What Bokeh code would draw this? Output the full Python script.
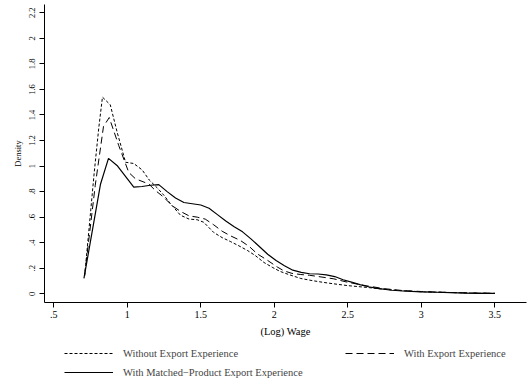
from bokeh.plotting import figure
from bokeh.models import Range1d, FixedTicker, Legend, LegendItem
from bokeh.layouts import column
from bokeh.embed import file_html
from bokeh.resources import INLINE

# Without Export Experience (short dash)
x_without = [0.71, 0.775, 0.806, 0.831, 0.884, 0.931, 0.988, 1.044, 1.101, 1.15, 1.203, 1.25, 1.294,
             1.362, 1.42, 1.475, 1.52, 1.588, 1.645, 1.70, 1.76, 1.816, 1.87, 1.93, 1.99, 2.04, 2.10,
             2.18, 2.25, 2.33, 2.405, 2.5, 2.63, 2.75, 2.86, 3.0, 3.2, 3.35, 3.5]
y_without = [0.14, 0.95, 1.30, 1.54, 1.48, 1.265, 1.03, 1.02, 0.97, 0.89, 0.83, 0.77, 0.705,
             0.615, 0.585, 0.58, 0.56, 0.48, 0.44, 0.41, 0.375, 0.34, 0.30, 0.245, 0.205, 0.175, 0.15,
             0.12, 0.105, 0.09, 0.078, 0.064, 0.05, 0.035, 0.025, 0.016, 0.01, 0.006, 0.003]

# With Export Experience (long dash)
x_with = [0.71, 0.782, 0.838, 0.877, 0.942, 1.01, 1.056, 1.146, 1.19, 1.248, 1.305, 1.362, 1.42,
          1.476, 1.53, 1.588, 1.645, 1.70, 1.77, 1.83, 1.884, 1.95, 2.02, 2.065, 2.12, 2.18, 2.24,
          2.30, 2.405, 2.5, 2.63, 2.75, 2.86, 3.0, 3.2, 3.35, 3.5]
y_with = [0.15, 0.85, 1.31, 1.38, 1.16, 0.95, 0.90, 0.86, 0.81, 0.756, 0.69, 0.645, 0.61,
          0.60, 0.585, 0.54, 0.49, 0.455, 0.417, 0.37, 0.313, 0.265, 0.21, 0.18, 0.16, 0.151, 0.145,
          0.135, 0.117, 0.09, 0.062, 0.04, 0.027, 0.018, 0.01, 0.007, 0.004]

# With Matched-Product Export Experience (solid)
x_matched = [0.705, 0.818, 0.872, 0.93, 1.044, 1.10, 1.157, 1.214, 1.271, 1.328, 1.385, 1.442, 1.50,
             1.556, 1.613, 1.67, 1.727, 1.784, 1.841, 1.898, 1.955, 2.012, 2.069, 2.126, 2.183, 2.24,
             2.297, 2.354, 2.411, 2.468, 2.525, 2.582, 2.64, 2.70, 2.80, 2.90, 3.0, 3.1, 3.2, 3.3, 3.4, 3.5]
y_matched = [0.12, 0.86, 1.06, 1.005, 0.835, 0.84, 0.85, 0.855, 0.80, 0.75, 0.715, 0.705, 0.695,
             0.67, 0.62, 0.57, 0.525, 0.485, 0.43, 0.37, 0.31, 0.26, 0.22, 0.185, 0.168, 0.157,
             0.155, 0.148, 0.135, 0.11, 0.092, 0.072, 0.055, 0.042, 0.028, 0.02, 0.015, 0.012, 0.009,
             0.006, 0.004, 0.003]

series_labels = ["Without Export Experience", "With Export Experience",
                 "With Matched\u2212Product Export Experience"]

x_ticks = [0.5, 1.0, 1.5, 2.0, 2.5, 3.0, 3.5]
x_tick_labels = [".5", "1", "1.5", "2", "2.5", "3", "3.5"]
y_ticks = [0, 0.2, 0.4, 0.6, 0.8, 1.0, 1.2, 1.4, 1.6, 1.8, 2.0, 2.2]
y_tick_labels = ["0", ".2", ".4", ".6", ".8", "1", "1.2", "1.4", "1.6", "1.8", "2", "2.2"]

FONT = "Liberation Serif"
styles = [dict(line_dash="3 2", line_width=1), dict(line_dash="7 4", line_width=1),
          dict(line_dash="solid", line_width=1.2)]
series_x = [x_without, x_with, x_matched]
series_y = [y_without, y_with, y_matched]

p = figure(width=528, height=342, frame_width=482, frame_height=298,
           output_backend="svg", toolbar_location=None,
           x_range=Range1d(0.4367, 3.7156), y_range=Range1d(-0.0681, 2.265),
           min_border_left=44, min_border_right=2, min_border_top=4, min_border_bottom=40)
p.background_fill_color = "white"
p.border_fill_color = "white"
p.outline_line_color = None
p.grid.visible = False

for xs, ys, st in zip(series_x, series_y, styles):
    p.line(xs, ys, line_color="black", **st)

for ax in (p.xaxis[0], p.yaxis[0]):
    ax.axis_line_color = "black"
    ax.major_tick_line_color = "black"
    ax.minor_tick_line_color = None
    ax.major_tick_out = 5
    ax.major_tick_in = 0
    ax.major_label_text_font = FONT
    ax.axis_label_text_font = FONT
    ax.axis_label_text_font_style = "normal"
    ax.major_label_text_color = "black"
    ax.axis_label_text_color = "black"

p.xaxis.ticker = FixedTicker(ticks=x_ticks)
p.xaxis.major_label_overrides = {t: l for t, l in zip(x_ticks, x_tick_labels)}
p.xaxis.major_label_text_font_size = "10px"
p.xaxis.axis_label = "(Log) Wage"
p.xaxis.axis_label_text_font_size = "10.5px"
p.xaxis.major_label_standoff = 3
p.xaxis.axis_label_standoff = 5

p.yaxis.ticker = FixedTicker(ticks=y_ticks)
p.yaxis.major_label_overrides = {t: l for t, l in zip(y_ticks, y_tick_labels)}
p.yaxis.major_label_orientation = "vertical"
p.yaxis.major_label_text_font_size = "8.5px"
p.yaxis.axis_label = "Density"
p.yaxis.axis_label_text_font_size = "8.5px"
p.yaxis.major_label_standoff = 4
p.yaxis.axis_label_standoff = 4

# Legend panel below the plot (its lines use the same series, kept outside its visible range)
lg = figure(width=528, height=45, output_backend="svg", toolbar_location=None,
            x_range=Range1d(100, 101), y_range=Range1d(100, 101),
            x_axis_location=None, y_axis_location=None,
            min_border_left=0, min_border_right=0, min_border_top=0, min_border_bottom=0)
lg.outline_line_color = None
lg.grid.visible = False
lg.background_fill_color = "white"
lg.border_fill_color = "white"

items = []
for lab, xs, ys, st in zip(series_labels, series_x, series_y, styles):
    r = lg.line(xs, ys, line_color="black", **st)
    items.append(LegendItem(label=lab, renderers=[r]))

legend = Legend(items=items, orientation="horizontal", ncols=2, location=(20, 9))
legend.label_text_font = FONT
legend.label_text_font_size = "10.5px"
legend.glyph_width = 49
legend.glyph_height = 12
legend.label_standoff = 10
legend.label_width = 215
legend.label_height = 12
legend.spacing = 7
legend.padding = 0
legend.margin = 0
legend.border_line_color = None
legend.background_fill_alpha = 0
lg.add_layout(legend, "center")

layout = column(p, lg, spacing=0)
open("out.html", "w").write(file_html(layout, INLINE))
